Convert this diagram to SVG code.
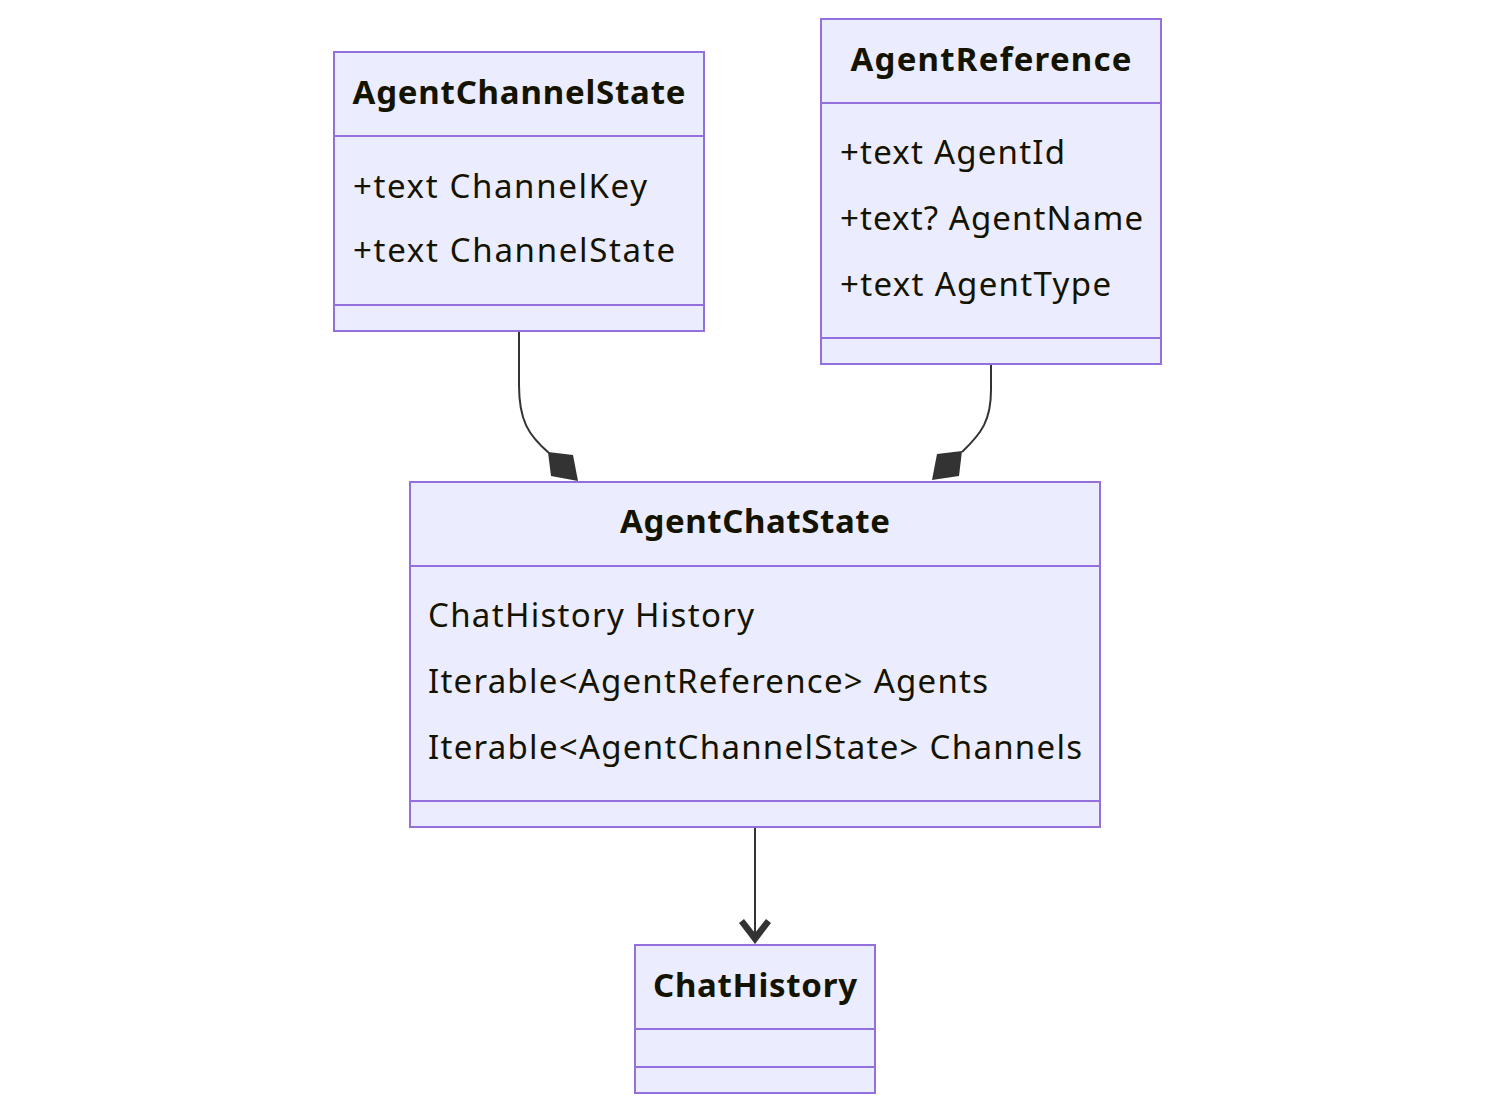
<svg xmlns="http://www.w3.org/2000/svg" width="1495" height="1112" viewBox="0 0 1495 1112">
<style>
.box{fill:#ECECFF;stroke:#9370DB;stroke-width:2}
.div{stroke:#9370DB;stroke-width:2}
.t{font-family:"Noto Sans","Open Sans",sans-serif;font-size:33px;fill:#131300}
.h{font-weight:bold;text-anchor:middle}
.edge{fill:none;stroke:#333;stroke-width:2}
.head{fill:#333}
</style>
<rect width="1495" height="1112" fill="#fff"/>
<g id="AgentChannelState">
<rect class="box" x="334" y="52" width="370" height="279"/>
<line class="div" x1="334" y1="136" x2="704" y2="136"/>
<line class="div" x1="334" y1="305" x2="704" y2="305"/>
<text class="t h" x="519" y="104" textLength="333" lengthAdjust="spacing">AgentChannelState</text>
<text class="t" x="353" y="198" textLength="294" lengthAdjust="spacing">+text ChannelKey</text>
<text class="t" x="353" y="262" textLength="322" lengthAdjust="spacing">+text ChannelState</text>
</g>
<g id="AgentReference">
<rect class="box" x="821" y="19" width="340" height="345"/>
<line class="div" x1="821" y1="103" x2="1161" y2="103"/>
<line class="div" x1="821" y1="338" x2="1161" y2="338"/>
<text class="t h" x="991" y="71" textLength="281" lengthAdjust="spacing">AgentReference</text>
<text class="t" x="840" y="164" textLength="225" lengthAdjust="spacing">+text AgentId</text>
<text class="t" x="840" y="230" textLength="303" lengthAdjust="spacing">+text? AgentName</text>
<text class="t" x="840" y="296" textLength="271" lengthAdjust="spacing">+text AgentType</text>
</g>
<g id="AgentChatState">
<rect class="box" x="410" y="482" width="690" height="345"/>
<line class="div" x1="410" y1="566" x2="1100" y2="566"/>
<line class="div" x1="410" y1="801" x2="1100" y2="801"/>
<text class="t h" x="755" y="533" textLength="270" lengthAdjust="spacing">AgentChatState</text>
<text class="t" x="428" y="627" textLength="326" lengthAdjust="spacing">ChatHistory History</text>
<text class="t" x="428" y="693" textLength="560" lengthAdjust="spacing">Iterable&lt;AgentReference&gt; Agents</text>
<text class="t" x="428" y="759" textLength="654" lengthAdjust="spacing">Iterable&lt;AgentChannelState&gt; Channels</text>
</g>
<g id="ChatHistory">
<rect class="box" x="635" y="945" width="240" height="148"/>
<line class="div" x1="635" y1="1029" x2="875" y2="1029"/>
<line class="div" x1="635" y1="1067" x2="875" y2="1067"/>
<text class="t h" x="755" y="997" textLength="204" lengthAdjust="spacing">ChatHistory</text>
</g>
<g id="connectors">
<path class="edge" d="M519,332 V385 C519,420 528,435 549,453"/>
<polygon class="head" points="548,452 573,455 578,481 551,476"/>
<path class="edge" d="M991,365 V390 C991,420 982,433 962,452"/>
<polygon class="head" points="962,451 937,454 932,480 959,476"/>
<path class="edge" d="M755,828 V940"/>
<path class="head" d="M739,923 L755,944 L771,923 L766,919 L755,933 L744,919 Z"/>
</g>
</svg>
